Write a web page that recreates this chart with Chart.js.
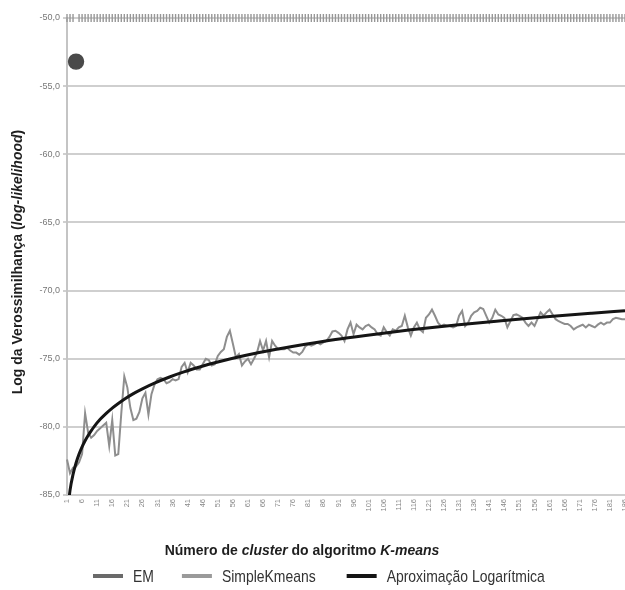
<!DOCTYPE html>
<html><head><meta charset="utf-8">
<script src="https://cdn.jsdelivr.net/npm/chart.js@4.4.1/dist/chart.umd.min.js"></script>
<style>html,body{margin:0;padding:0;background:#fff}</style>
</head><body>
<canvas id="c" width="625" height="590"></canvas>
<script>
// ---- data ----
const categories = Array.from({length: 186}, (_, i) => String(i + 1));

const emValues = [
-50,-50,-50,-53.2,-50,-50,-50,-50,-50,-50,-50,-50,-50,-50,-50,-50,-50,-50,-50,-50,
-50,-50,-50,-50,-50,-50,-50,-50,-50,-50,-50,-50,-50,-50,-50,-50,-50,-50,-50,-50,
-50,-50,-50,-50,-50,-50,-50,-50,-50,-50,-50,-50,-50,-50,-50,-50,-50,-50,-50,-50,
-50,-50,-50,-50,-50,-50,-50,-50,-50,-50,-50,-50,-50,-50,-50,-50,-50,-50,-50,-50,
-50,-50,-50,-50,-50,-50,-50,-50,-50,-50,-50,-50,-50,-50,-50,-50,-50,-50,-50,-50,
-50,-50,-50,-50,-50,-50,-50,-50,-50,-50,-50,-50,-50,-50,-50,-50,-50,-50,-50,-50,
-50,-50,-50,-50,-50,-50,-50,-50,-50,-50,-50,-50,-50,-50,-50,-50,-50,-50,-50,-50,
-50,-50,-50,-50,-50,-50,-50,-50,-50,-50,-50,-50,-50,-50,-50,-50,-50,-50,-50,-50,
-50,-50,-50,-50,-50,-50,-50,-50,-50,-50,-50,-50,-50,-50,-50,-50,-50,-50,-50,-50,
-50,-50,-50,-50,-50,-50
];

const simpleKmeansValues = [
-82.4,-83.4,-83.0,-82.9,-82.6,-82.0,-79.0,-80.4,-80.8,-80.6,
-80.3,-80.1,-79.9,-79.7,-81.4,-79.5,-82.1,-82.0,-79.0,-76.3,
-77.1,-78.6,-79.5,-79.4,-78.9,-77.9,-77.5,-79.1,-77.6,-76.9,
-76.5,-76.4,-76.5,-76.8,-76.7,-76.5,-76.6,-76.5,-75.6,-75.3,
-76.0,-75.3,-75.5,-75.8,-75.8,-75.4,-75.0,-75.1,-75.5,-75.4,
-74.8,-74.5,-74.3,-73.4,-72.95,-73.9,-74.9,-74.65,-75.5,-75.2,
-75.0,-75.4,-75.0,-74.55,-73.7,-74.4,-73.7,-74.9,-73.7,-74.05,
-74.3,-74.3,-74.3,-74.2,-74.4,-74.55,-74.55,-74.7,-74.5,-74.1,
-73.95,-74.05,-73.95,-73.8,-73.95,-73.8,-73.7,-73.4,-73.0,-72.95,
-73.1,-73.3,-73.7,-72.85,-72.35,-73.2,-72.5,-72.7,-72.85,-72.6,
-72.5,-72.7,-72.85,-73.2,-73.3,-72.7,-73.05,-73.3,-72.85,-72.95,
-72.7,-72.6,-71.85,-72.7,-73.3,-72.7,-72.35,-72.85,-73.05,-72.0,
-71.75,-71.4,-71.85,-72.35,-72.6,-72.5,-72.6,-72.6,-72.7,-72.6,
-71.85,-71.5,-72.6,-72.35,-71.85,-71.6,-71.5,-71.25,-71.35,-71.85,
-72.35,-72.0,-71.4,-71.75,-71.85,-72.0,-72.7,-72.25,-71.8,-71.75,
-71.85,-72.0,-72.35,-72.6,-72.35,-72.6,-72.1,-71.6,-71.85,-71.6,
-71.4,-71.75,-72.1,-72.25,-72.35,-72.45,-72.45,-72.6,-72.85,-72.7,
-72.6,-72.5,-72.7,-72.5,-72.6,-72.7,-72.5,-72.35,-72.5,-72.35,
-72.35,-72.1,-72.0,-72.05,-72.1,-72.1
];

const fitCategories = ['1','2','3','4','5','6','7','8','9','10','12','14','16','18','20','23','26','30','35','40','45','50','60','70','80','90','100','115','130','145','160','175','186'];
const fitValues = [-86.68,-84.66,-83.49,-82.65,-82.00,-81.47,-81.02,-80.63,-80.29,-79.98,-79.45,-79.01,-78.62,-78.28,-77.97,-77.56,-77.21,-76.79,-76.34,-75.95,-75.61,-75.30,-74.77,-74.33,-73.94,-73.59,-73.29,-72.88,-72.52,-72.21,-71.92,-71.66,-71.48];

const yTicks = [-85, -80, -75, -70, -65, -60, -55, -50];
const seriesNames = ['EM', 'SimpleKmeans', 'Aproximação Logarítmica'];
const legendColors = ['#6a6a6a', '#9a9a9a', '#151515'];

const DOT_INDEX = 3;
const FONT = "'Liberation Sans', Arial, sans-serif";

function richText(ctx, parts, cx, cy) {
  let total = 0;
  parts.forEach(p => { ctx.font = p[1]; total += ctx.measureText(p[0]).width; });
  let x = cx - total / 2;
  ctx.textAlign = 'left';
  ctx.textBaseline = 'middle';
  parts.forEach(p => { ctx.font = p[1]; ctx.fillText(p[0], x, cy); x += ctx.measureText(p[0]).width; });
}

const decor = {
  id: 'decor',
  afterDraw(chart) {
    const ctx = chart.ctx;
    ctx.save();
    ctx.fillStyle = '#1e1e1e';
    const B = 'bold 14px ' + FONT, BI = 'italic bold 14px ' + FONT;
    richText(ctx, [['Número de ', B], ['cluster', BI], [' do algoritmo ', B], ['K-means', BI]], 302, 551);
    ctx.save();
    ctx.translate(18, 262);
    ctx.rotate(-Math.PI / 2);
    richText(ctx, [['Log da Verossimilhança (', B], ['log-likelihood', BI], [')', B]], 0, 0);
    ctx.restore();
    // legend (narrow-looking text, like the reference)
    const SX = 0.82;
    ctx.font = '17px ' + FONT;
    ctx.textBaseline = 'middle';
    ctx.textAlign = 'left';
    let x = 93;
    const y = 576;
    const gaps = [28, 31];
    seriesNames.forEach((name, i) => {
      ctx.fillStyle = legendColors[i];
      ctx.fillRect(x, y - 2, 30, 4);
      x += 40;
      ctx.fillStyle = '#333';
      ctx.save();
      ctx.translate(x, y + 1);
      ctx.scale(SX, 1);
      ctx.fillText(name, 0, 0);
      ctx.restore();
      x += ctx.measureText(name).width * SX + (gaps[i] || 0);
    });
    ctx.restore();
  }
};

new Chart(document.getElementById('c'), {
  type: 'line',
  data: {
    labels: categories,
    datasets: [
      {
        label: seriesNames[0],
        data: emValues,
        showLine: false,
        order: 0,
        clip: false,
        pointStyle: c => c.dataIndex === DOT_INDEX ? 'circle' : 'line',
        rotation: 90,
        pointRadius: c => c.dataIndex === DOT_INDEX ? 7.5 : 4,
        pointBorderWidth: 1.4,
        pointBackgroundColor: c => c.dataIndex === DOT_INDEX ? '#4a4a4a' : '#999',
        pointBorderColor: c => c.dataIndex === DOT_INDEX ? '#4a4a4a' : '#979797',
        pointHoverRadius: 0
      },
      {
        label: seriesNames[1],
        data: simpleKmeansValues,
        borderColor: '#8e8e8e',
        borderWidth: 2,
        pointRadius: 0,
        tension: 0,
        order: 2
      },
      {
        label: seriesNames[2],
        data: fitCategories.map((k, i) => ({x: k, y: fitValues[i]})),
        borderColor: '#151515',
        borderWidth: 3,
        pointRadius: 0,
        spanGaps: true,
        cubicInterpolationMode: 'monotone',
        order: 1
      }
    ]
  },
  options: {
    responsive: false,
    animation: false,
    events: [],
    layout: { autoPadding: false, padding: { left: 0, right: 0, top: 18, bottom: 0 } },
    plugins: { legend: { display: false }, tooltip: { enabled: false } },
    scales: {
      x: {
        type: 'category',
        offset: false,
        grid: { display: false, drawTicks: false },
        border: { display: false },
        afterFit: s => { s.height = 95; s.paddingRight = 0; s.paddingLeft = 0; },
        ticks: {
          autoSkip: false,
          maxRotation: 90,
          minRotation: 90,
          padding: 4,
          color: '#888',
          font: { size: 7.5, family: FONT },
          callback: (v, i) => (i % 5 === 0 ? categories[i] : '')
        }
      },
      y: {
        min: -85,
        max: -50,
        afterFit: s => { s.width = 67; s.paddingTop = 0; s.paddingBottom = 0; },
        afterBuildTicks: s => { s.ticks = yTicks.map(v => ({value: v})); },
        grid: { color: '#cfcfcf', lineWidth: 2, tickLength: 4, tickColor: '#cfcfcf' },
        border: { display: true, color: '#c4c4c4', width: 2 },
        ticks: {
          padding: 3,
          color: '#777',
          font: { size: 9, family: FONT },
          callback: v => v.toFixed(1).replace('.', ',')
        }
      }
    }
  },
  plugins: [decor]
});
</script>
</body></html>
